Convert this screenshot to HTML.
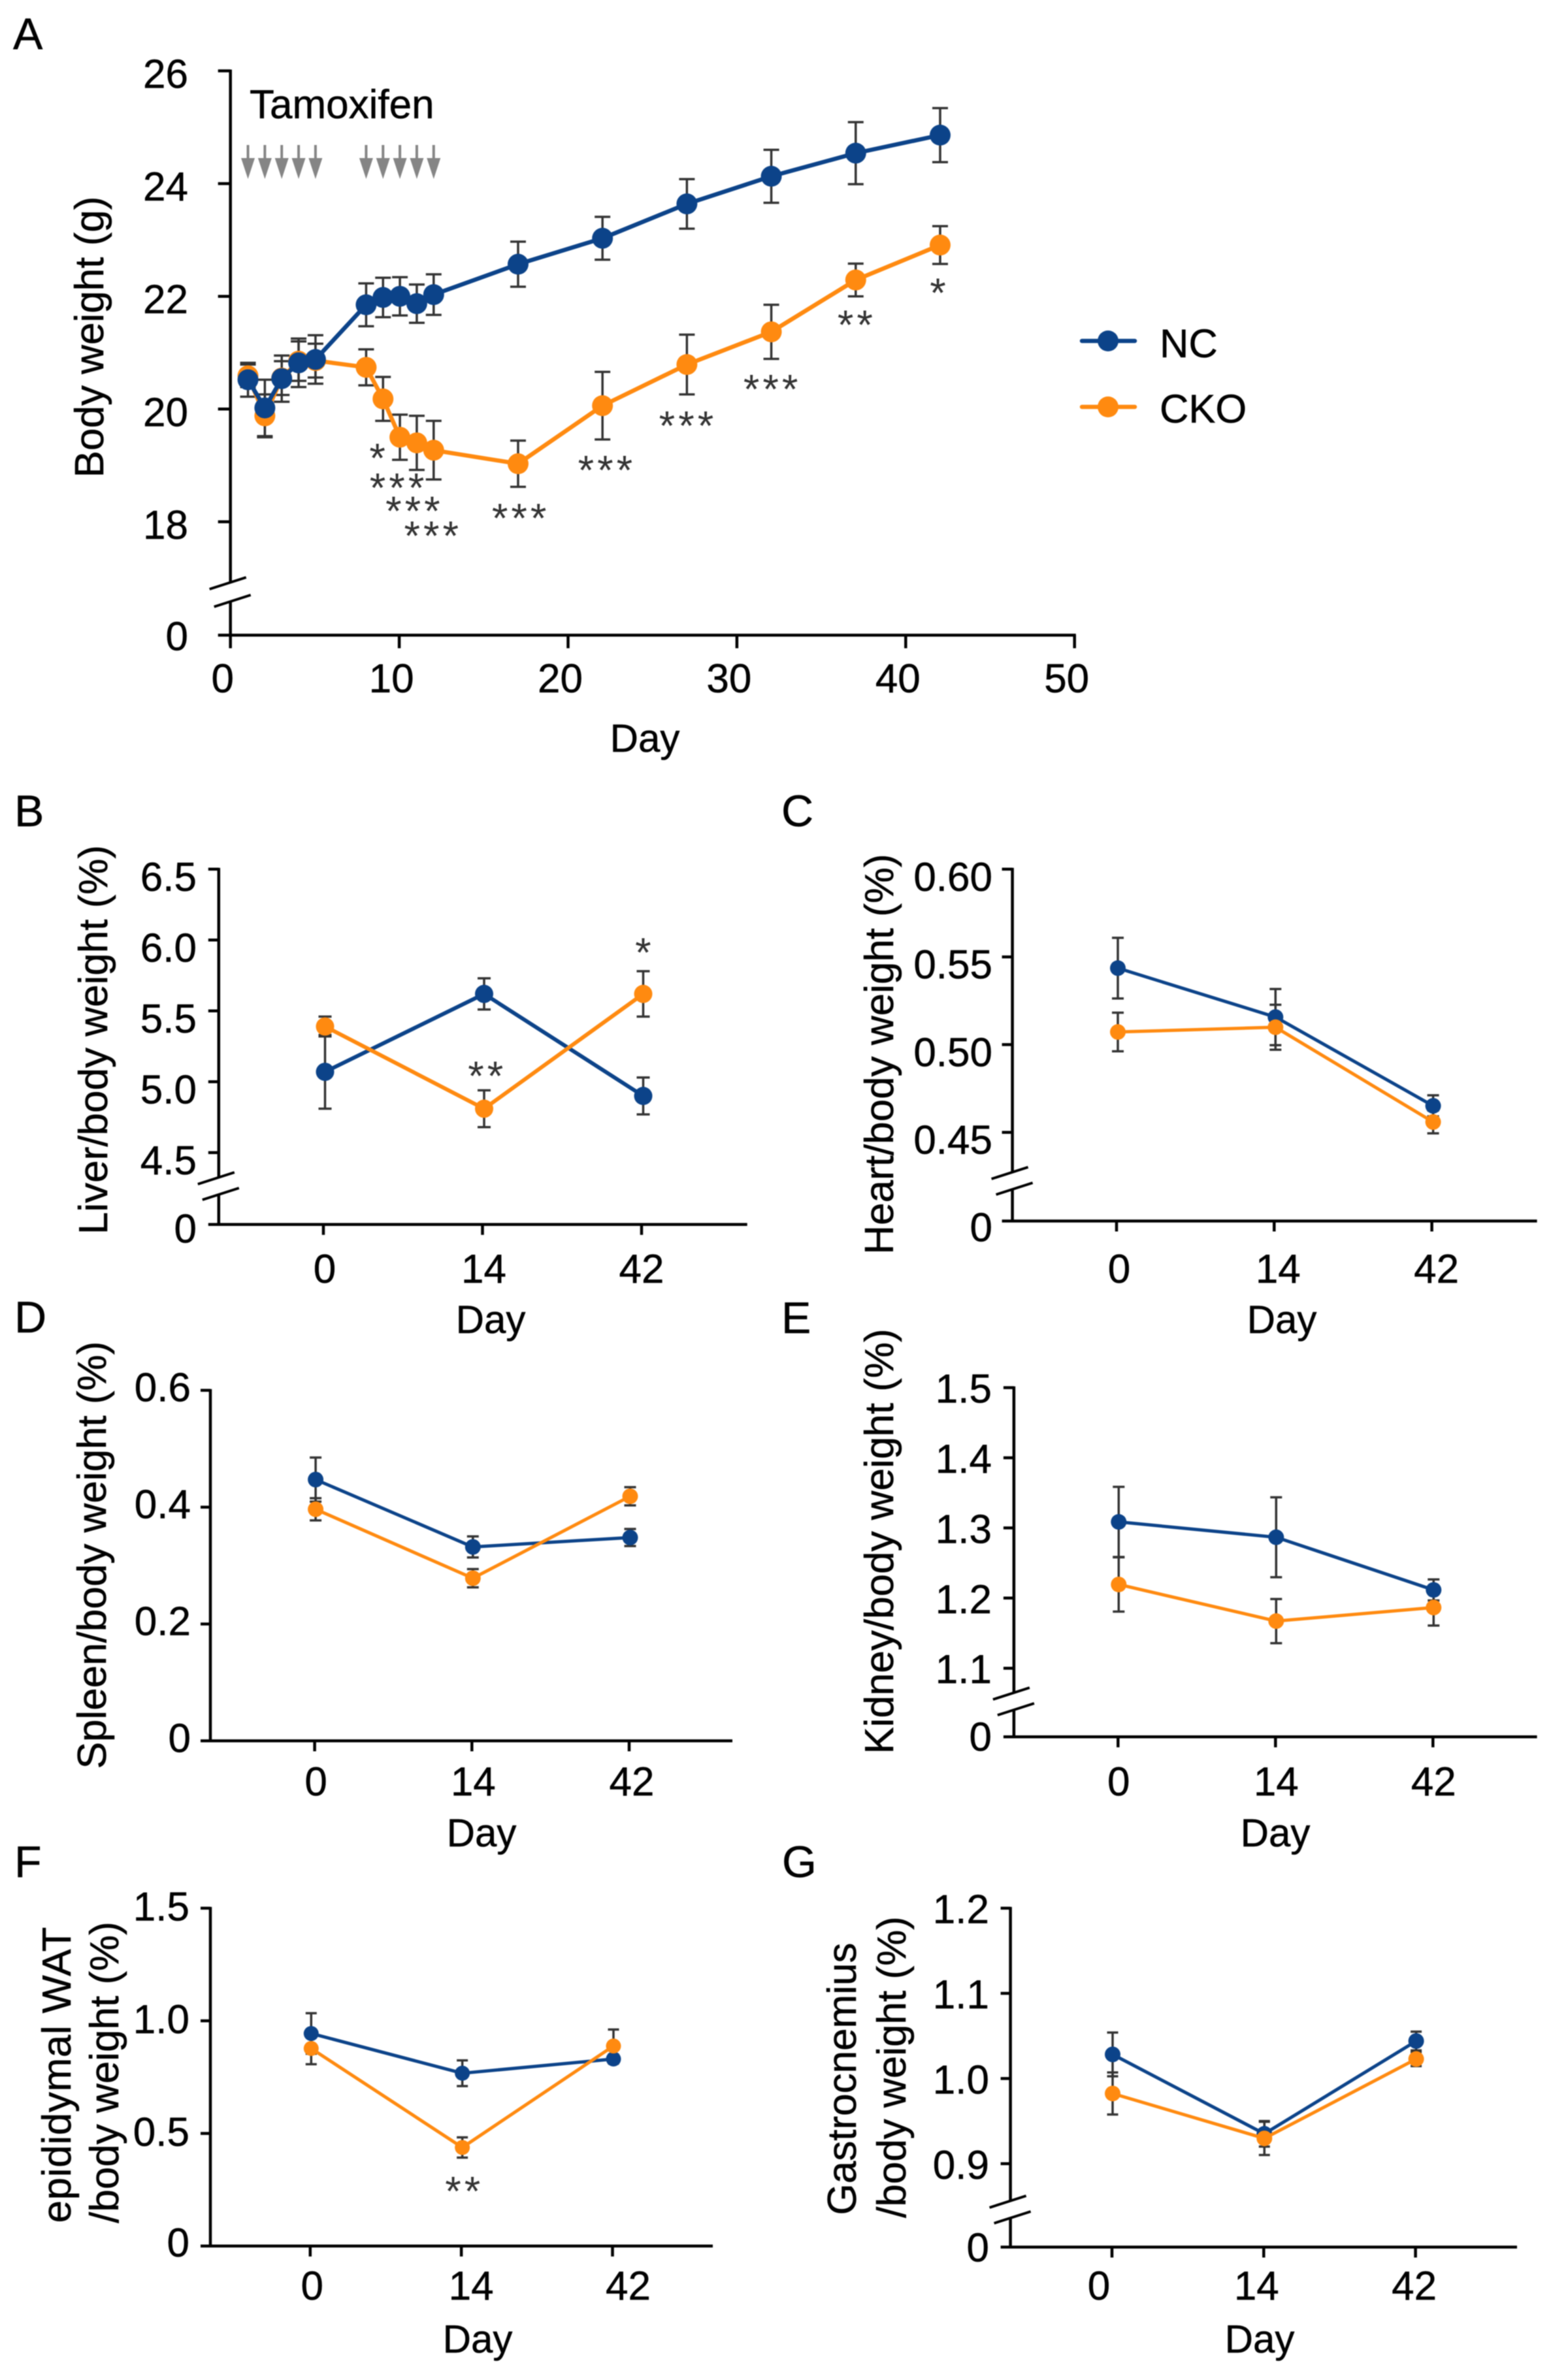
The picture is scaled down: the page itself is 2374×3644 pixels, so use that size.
<!DOCTYPE html>
<html lang="en">
<head>
<meta charset="utf-8">
<title>Body and organ weight panels</title>
<style>
  html, body { margin: 0; padding: 0; background: #fff; }
  svg { display: block; filter: blur(0.7px); }
  text { font-family: "Liberation Sans", Arial, sans-serif; fill: #000; stroke: #000; stroke-width: 0.5px; }
  .tick { font-size: 62px; }
  .axt { font-size: 62px; text-anchor: middle; }
  .day { font-size: 60px; text-anchor: middle; }
  .letter { font-size: 68px; }
  .star { fill: #333; stroke: none; }
</style>
</head>
<body>
<svg id="figure" xmlns="http://www.w3.org/2000/svg" width="2374" height="3644" viewBox="0 0 2374 3644">
  <rect x="0" y="0" width="2374" height="3644" fill="#fff"/>

  <text class="letter" x="20" y="75">A</text>
  <text class="letter" x="22" y="1265">B</text>
  <text class="letter" x="1196" y="1265">C</text>
  <text class="letter" x="22" y="2040">D</text>
  <text class="letter" x="1196" y="2041">E</text>
  <text class="letter" x="22" y="2874">F</text>
  <text class="letter" x="1197" y="2874">G</text>

  <text class="axt" transform="translate(158,516) rotate(-90)">Body weight (g)</text>
  <text class="axt" transform="translate(164,1592) rotate(-90)">Liver/body weight (%)</text>
  <text class="axt" transform="translate(1367,1614) rotate(-90)">Heart/body weight (%)</text>
  <text class="axt" transform="translate(162,2381) rotate(-90)">Spleen/body weight (%)</text>
  <text class="axt" transform="translate(1367,2360) rotate(-90)">Kidney/body weight (%)</text>
  <text class="axt" transform="translate(108,3177) rotate(-90)" textLength="453" lengthAdjust="spacing">epididymal WAT</text>
  <text class="axt" transform="translate(181,3173) rotate(-90)">/body weight (%)</text>
  <text class="axt" transform="translate(1310,3183) rotate(-90)">Gastrocnemius</text>
  <text class="axt" transform="translate(1386,3165) rotate(-90)">/body weight (%)</text>

  <text class="day" x="987" y="1151">Day</text>
  <text class="day" x="751" y="2041">Day</text>
  <text class="day" x="1962" y="2041">Day</text>
  <text class="day" x="737" y="2827">Day</text>
  <text class="day" x="1952" y="2827">Day</text>
  <text class="day" x="731" y="3602">Day</text>
  <text class="day" x="1928" y="3602">Day</text>

  <text x="382" y="181" font-size="62">Tamoxifen</text>

  <g>
    <line x1="1656" y1="522" x2="1737" y2="522" stroke="#0c4389" stroke-width="6.5" stroke-linecap="round"/>
    <circle cx="1696" cy="522" r="16" fill="#0c4389"/>
    <text x="1775" y="547" font-size="61.5">NC</text>
    <line x1="1656" y1="623" x2="1737" y2="623" stroke="#ff8a10" stroke-width="6.5" stroke-linecap="round"/>
    <circle cx="1696" cy="623" r="16" fill="#ff8a10"/>
    <text x="1775" y="647" font-size="61.5">CKO</text>
  </g>
</svg>

<script>
/* ---------- Panel A data ---------- */
const aDays = [1, 2, 3, 4, 5, 8, 9, 10, 11, 12, 17, 22, 27, 32, 37, 42];
const aNC = [20.52, 20.02, 20.54, 20.82, 20.88, 21.85, 21.98, 22.0, 21.87, 22.03, 22.57, 23.03, 23.64, 24.13, 24.54, 24.86];
const aNCErr = [0.3, 0.5, 0.41, 0.43, 0.43, 0.38, 0.35, 0.34, 0.34, 0.36, 0.4, 0.38, 0.44, 0.47, 0.55, 0.48];
const aCKO = [20.59, 19.88, 20.55, 20.85, 20.86, 20.74, 20.18, 19.5, 19.4, 19.27, 19.03, 20.06, 20.79, 21.37, 22.29, 22.91];
const aCKOErr = [0.2, 0.38, 0.3, 0.35, 0.3, 0.32, 0.39, 0.4, 0.48, 0.52, 0.41, 0.6, 0.53, 0.48, 0.29, 0.335];
const aYTicks = [26, 24, 22, 20, 18];
const aXTicks = [0, 10, 20, 30, 40, 50];
const aStarDays = [8.8, 9.96, 10.9, 12, 17.2, 22.3, 27.1, 32.1, 37.1, 42];
const aStarValues = [19.23, 18.7, 18.29, 17.85, 18.16, 19.01, 19.8, 20.45, 21.59, 22.16];
const aStarMarks = ['*', '***', '***', '***', '***', '***', '***', '***', '**', '*'];
const tamoxifenDays = [1, 2, 3, 4, 5, 8, 9, 10, 11, 12];

/* ---------- Shared category labels ---------- */
const dayCategories = ['0', '14', '42'];

/* ---------- Panel B ---------- */
const bNC = [5.07, 5.62, 4.90];
const bNCErr = [0.26, 0.11, 0.13];
const bCKO = [5.39, 4.81, 5.62];
const bCKOErr = [0.07, 0.13, 0.16];
const bYTicks = ['6.5', '6.0', '5.5', '5.0', '4.5'];
const bStarCats = [1.03, 2.02];
const bStarValues = [5.08, 5.95];
const bStarMarks = ['**', '*'];

/* ---------- Panel C ---------- */
const cNC = [0.5436, 0.5157, 0.4651];
const cNCErr = [0.0173, 0.016, 0.006];
const cCKO = [0.5072, 0.5099, 0.4559];
const cCKOErr = [0.011, 0.0128, 0.0065];
const cYTicks = ['0.60', '0.55', '0.50', '0.45'];

/* ---------- Panel D ---------- */
const dNC = [0.4472, 0.3319, 0.348];
const dNCErr = [0.0377, 0.018, 0.0146];
const dCKO = [0.3964, 0.2784, 0.4186];
const dCKOErr = [0.019, 0.0156, 0.0156];
const dYTicks = ['0.6', '0.4', '0.2'];

/* ---------- Panel E ---------- */
const eNC = [1.3086, 1.2867, 1.2116];
const eNCErr = [0.05, 0.057, 0.015];
const eCKO = [1.2194, 1.1672, 1.1865];
const eCKOErr = [0.0387, 0.0315, 0.0257];
const eYTicks = ['1.5', '1.4', '1.3', '1.2', '1.1'];

/* ---------- Panel F ---------- */
const fNC = [0.9437, 0.7673, 0.8304];
const fNCErr = [0.09, 0.057, 0.02];
const fCKO = [0.8773, 0.4377, 0.8882];
const fCKOErr = [0.07, 0.045, 0.073];
const fYTicks = ['1.5', '1.0', '0.5'];
const fStarCats = [1.02];
const fStarValues = [0.2686];
const fStarMarks = ['**'];

/* ---------- Panel G ---------- */
const gNC = [1.0283, 0.9351, 1.044];
const gNCErr = [0.0257, 0.015, 0.011];
const gCKO = [0.9824, 0.9297, 1.0229];
const gCKOErr = [0.0247, 0.0195, 0.0083];
const gYTicks = ['1.2', '1.1', '1.0', '0.9'];

/* ---------- Rendering ---------- */
const NS = 'http://www.w3.org/2000/svg';
const figure = document.getElementById('figure');
const NAVY = '#0c4389';
const ORANGE = '#ff8a10';
const ERR = '#333';
const AXIS = '#000';
const AXIS_W = 4.5;

function svgEl(tag, attrs, parent) {
  const el = document.createElementNS(NS, tag);
  for (const k in attrs) el.setAttribute(k, attrs[k]);
  parent.appendChild(el);
  return el;
}

function drawPanel(p) {
  const g = svgEl('g', {}, figure);
  
  

  const yScale = function (v) { return p.yTop + (p.vTop - v) * p.yPerUnit; };
  const xScale = function (v) { return p.xOrigin + v * p.xPerUnit; };

  /* y axis */
  const yLineTop = svgEl('line', { x1: p.axisX, x2: p.axisX, y1: p.yTop - 2, y2: p.breakTop === undefined ? p.yZero + 2 : p.breakTop, stroke: AXIS, 'stroke-width': AXIS_W }, g);
  
  

  if (p.breakTop !== undefined) {
    const yLineLow = svgEl('line', { x1: p.axisX, x2: p.axisX, y1: p.breakLow, y2: p.yZero + 2, stroke: AXIS, 'stroke-width': AXIS_W }, g);
    
    

    const slashTop = svgEl('line', { x1: p.axisX - 32, y1: p.breakTop + 9, x2: p.axisX + 24, y2: p.breakTop - 9, stroke: AXIS, 'stroke-width': 4 }, g);
    
    

    const slashLow = svgEl('line', { x1: p.axisX - 25, y1: p.breakLow + 9, x2: p.axisX + 31, y2: p.breakLow - 9, stroke: AXIS, 'stroke-width': 4 }, g);
    
    
  }

  /* x axis */
  const xLine = svgEl('line', { x1: p.axisX - p.tickLen, x2: p.xEnd, y1: p.yZero, y2: p.yZero, stroke: AXIS, 'stroke-width': AXIS_W }, g);
  
  

  /* y ticks */
  p.yTicks.forEach(function (t) {
    const y = yScale(parseFloat(t));
    const tick = svgEl('line', { x1: p.axisX - p.tickLen, x2: p.axisX, y1: y, y2: y, stroke: AXIS, 'stroke-width': AXIS_W }, g);
    
    
    const label = svgEl('text', { class: 'tick', x: p.labelRight, y: y + p.yLabelDy + 20, 'text-anchor': 'end' }, g);
    label.textContent = String(t);
    
    
  });
  const zeroLabel = svgEl('text', { class: 'tick', x: p.labelRight, y: p.yZero + p.zeroLabelDy + 20, 'text-anchor': 'end' }, g);
  zeroLabel.textContent = '0';
  
  

  /* x ticks */
  p.xTicks.forEach(function (t, i) {
    const v = p.xTickValue(t, i);
    const x = xScale(v);
    const tick = svgEl('line', { x1: x, x2: x, y1: p.yZero, y2: p.yZero + p.xTickLen, stroke: AXIS, 'stroke-width': AXIS_W }, g);
    
    
    const label = svgEl('text', { class: 'tick', x: x + p.xLabelDx[i % p.xLabelDx.length], y: p.xLabelBaseline, 'text-anchor': 'middle' }, g);
    label.textContent = String(t);
    
    
  });

  const seriesList = p.orangeOnTop
    ? [{ n: 'nc', v: p.nc, e: p.ncErr, c: NAVY }, { n: 'cko', v: p.cko, e: p.ckoErr, c: ORANGE }]
    : [{ n: 'cko', v: p.cko, e: p.ckoErr, c: ORANGE }, { n: 'nc', v: p.nc, e: p.ncErr, c: NAVY }];

  /* error bars beneath everything */
  seriesList.forEach(function (s) {
    s.v.forEach(function (val, i) {
      const x = xScale(p.pointX(i)) + p.pointShift;
      const hi = yScale(val + s.e[i]);
      const lo = yScale(val - s.e[i]);
      const bar = svgEl('path', {
        d: 'M' + x + ' ' + hi + 'V' + lo + 'M' + (x - p.capHalf) + ' ' + hi + 'H' + (x + p.capHalf) + 'M' + (x - p.capHalf) + ' ' + lo + 'H' + (x + p.capHalf),
        fill: 'none', stroke: ERR, 'stroke-width': 3.5
      }, g);
      
      
    });
  });

  /* lines and markers */
  seriesList.forEach(function (s) {
    const pts = s.v.map(function (val, i) {
      return (xScale(p.pointX(i)) + p.pointShift) + ',' + yScale(val);
    }).join(' ');
    const line = svgEl('polyline', { points: pts, fill: 'none', stroke: s.c, 'stroke-width': p.lineWidth, 'stroke-linejoin': 'round' }, g);
    
    
    s.v.forEach(function (val, i) {
      const dot = svgEl('circle', { cx: xScale(p.pointX(i)) + p.pointShift, cy: yScale(val), r: p.radius, fill: s.c }, g);
      
      
    });
  });

  /* significance marks */
  p.starX.forEach(function (sx, i) {
    const star = svgEl('text', {
      class: 'star',
      x: xScale(sx), y: yScale(p.starV[i]) + 30,
      'text-anchor': 'middle', 'font-size': 63, 'letter-spacing': 5
    }, g);
    star.textContent = p.starM[i];
    
    
  });

  return { xScale: xScale, group: g };
}

const panelA = drawPanel({
  id: 'a', axisX: 352.7, yTop: 108.5, vTop: 26, yPerUnit: 86.3, yZero: 972.5,
  xOrigin: 352.7, xPerUnit: 25.84, xEnd: 1646.8, tickLen: 19, xTickLen: 20,
  breakTop: 893, breakLow: 920, labelRight: 288, yLabelDy: 6, zeroLabelDy: 3,
  xLabelDx: [-12], xLabelBaseline: 1060,
  yTicks: aYTicks, xTicks: aXTicks,
  xTickValue: function (t) { return t; },
  pointX: function (i) { return aDays[i]; }, pointShift: 1,
  nc: aNC, ncErr: aNCErr, cko: aCKO, ckoErr: aCKOErr,
  orangeOnTop: false, capHalf: 12, lineWidth: 6.5, radius: 16,
  starX: aStarDays, starV: aStarValues, starM: aStarMarks
});

tamoxifenDays.forEach(function (day) {
  const x = panelA.xScale(day) + 1;
  const arrow = svgEl('path', {
    d: 'M' + (x - 2) + ' 222H' + (x + 2) + 'V242H' + (x + 10.5) + 'L' + x + ' 274L' + (x - 10.5) + ' 242H' + (x - 2) + 'Z',
    fill: '#858585'
  }, panelA.group);
  
  
});

function catPanel(o) {
  o.xTicks = dayCategories;
  o.xTickValue = function (t, i) { return i; };
  o.pointX = function (i) { return i; };
  o.orangeOnTop = true;
  o.starX = o.starX || [];
  o.starV = o.starV || [];
  o.starM = o.starM || [];
  drawPanel(o);
}

catPanel({
  id: 'b', axisX: 334.8, yTop: 1330.8, vTop: 6.5, yPerUnit: 217, yZero: 1874.7,
  xOrigin: 495, xPerUnit: 243.5, xEnd: 1143.7, tickLen: 16, xTickLen: 16,
  breakTop: 1804, breakLow: 1828, labelRight: 301, yLabelDy: 13, zeroLabelDy: 8,
  xLabelDx: [2, 2, 0], xLabelBaseline: 1964, yTicks: bYTicks, pointShift: 2.5,
  nc: bNC, ncErr: bNCErr, cko: bCKO, ckoErr: bCKOErr,
  capHalf: 10, lineWidth: 6, radius: 14,
  starX: bStarCats, starV: bStarValues, starM: bStarMarks
});

catPanel({
  id: 'c', axisX: 1549.6, yTop: 1330.8, vTop: 0.6, yPerUnit: 2686, yZero: 1869.5,
  xOrigin: 1709, xPerUnit: 241.3, xEnd: 2352.6, tickLen: 16, xTickLen: 16,
  breakTop: 1796, breakLow: 1820, labelRight: 1519, yLabelDy: 13, zeroLabelDy: 11,
  xLabelDx: [4, 6, 7], xLabelBaseline: 1964, yTicks: cYTicks, pointShift: 2,
  nc: cNC, ncErr: cNCErr, cko: cCKO, ckoErr: cCKOErr,
  capHalf: 9, lineWidth: 5, radius: 12
});

catPanel({
  id: 'd', axisX: 322, yTop: 2128.7, vTop: 0.6, yPerUnit: 894.5, yZero: 2665.4,
  xOrigin: 481.6, xPerUnit: 240.7, xEnd: 1121, tickLen: 15, xTickLen: 16,
  labelRight: 292, yLabelDy: -3, zeroLabelDy: -3,
  xLabelDx: [2, 2, 4], xLabelBaseline: 2749, yTicks: dYTicks, pointShift: 1.5,
  nc: dNC, ncErr: dNCErr, cko: dCKO, ckoErr: dCKOErr,
  capHalf: 9, lineWidth: 5, radius: 12
});

catPanel({
  id: 'e', axisX: 1551.9, yTop: 2124.6, vTop: 1.5, yPerUnit: 1074, yZero: 2659.3,
  xOrigin: 1711.3, xPerUnit: 241, xEnd: 2352.6, tickLen: 16, xTickLen: 16,
  breakTop: 2593, breakLow: 2617, labelRight: 1518, yLabelDy: 3, zeroLabelDy: 1,
  xLabelDx: [1, 1, 1], xLabelBaseline: 2749, yTicks: eYTicks, pointShift: 1,
  nc: eNC, ncErr: eNCErr, cko: eCKO, ckoErr: eCKOErr,
  capHalf: 9, lineWidth: 5, radius: 12
});

catPanel({
  id: 'f', axisX: 322, yTop: 2921.6, vTop: 1.5, yPerUnit: 344.9, yZero: 3438.9,
  xOrigin: 474.8, xPerUnit: 231.35, xEnd: 1091, tickLen: 15, xTickLen: 16,
  labelRight: 290, yLabelDy: -1, zeroLabelDy: -4,
  xLabelDx: [3, 15, 24], xLabelBaseline: 3521, yTicks: fYTicks, pointShift: 1.5,
  nc: fNC, ncErr: fNCErr, cko: fCKO, ckoErr: fCKOErr,
  capHalf: 8.5, lineWidth: 5, radius: 11.5,
  starX: fStarCats, starV: fStarValues, starM: fStarMarks
});

catPanel({
  id: 'g', axisX: 1546.6, yTop: 2921.6, vTop: 1.2, yPerUnit: 1304, yZero: 3440.5,
  xOrigin: 1702, xPerUnit: 232.3, xEnd: 2322, tickLen: 15, xTickLen: 16,
  breakTop: 3371, breakLow: 3395, labelRight: 1514, yLabelDy: 3, zeroLabelDy: 2,
  xLabelDx: [-20, -11, -2], xLabelBaseline: 3521, yTicks: gYTicks, pointShift: 1,
  nc: gNC, ncErr: gNCErr, cko: gCKO, ckoErr: gCKOErr,
  capHalf: 8.5, lineWidth: 5, radius: 12
});
</script>
</body>
</html>
